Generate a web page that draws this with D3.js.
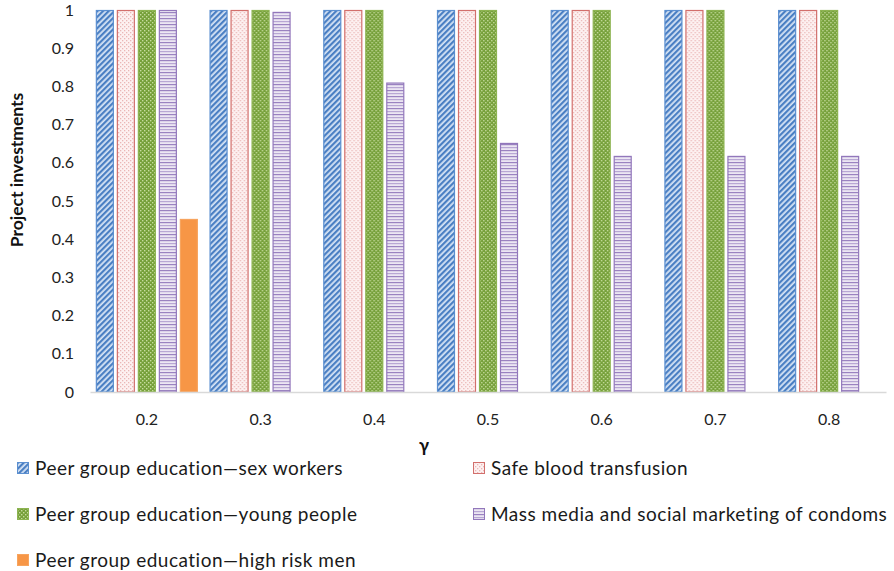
<!DOCTYPE html>
<html>
<head>
<meta charset="utf-8">
<script src="https://cdn.jsdelivr.net/npm/d3@7"></script>
<style>
  html, body { margin: 0; padding: 0; background: #fff; }
  svg { display: block; font-family: Lato, "Open Sans", sans-serif; }
</style>
</head>
<body>
<svg id="chart" width="894" height="571"></svg>
<script>
// γ values on the category axis
const categories = ["0.2", "0.3", "0.4", "0.5", "0.6", "0.7", "0.8"];

// Project investment per series, one value per γ
const sexWorkers   = [1, 1, 1, 1, 1, 1, 1];
const safeBlood    = [1, 1, 1, 1, 1, 1, 1];
const youngPeople  = [1, 1, 1, 1, 1, 1, 1];
const massMedia    = [1, 0.995, 0.81, 0.652, 0.618, 0.618, 0.618];
const highRiskMen  = [0.453, 0, 0, 0, 0, 0, 0];

const seriesNames = [
  "Peer group education\u2014sex workers",
  "Safe blood transfusion",
  "Peer group education\u2014young people",
  "Mass media and social marketing of condoms",
  "Peer group education\u2014high risk men"
];
const seriesValues = [sexWorkers, safeBlood, youngPeople, massMedia, highRiskMen];
const yTicks = [0, 0.1, 0.2, 0.3, 0.4, 0.5, 0.6, 0.7, 0.8, 0.9, 1];

const svg = d3.select("#chart");
const defs = svg.append("defs");

// Fill patterns
// blue wide upward diagonal
const pBlue = defs.append("pattern").attr("id", "pBlue").attr("patternUnits", "userSpaceOnUse")
  .attr("width", 4).attr("height", 4).attr("patternTransform", "rotate(45)");
pBlue.append("rect").attr("width", 4).attr("height", 4).attr("fill", "#d6e4f5");
pBlue.append("rect").attr("width", 2.2).attr("height", 4).attr("fill", "#4a7fc3");

// red/pink fine dots
const pRed = defs.append("pattern").attr("id", "pRed").attr("patternUnits", "userSpaceOnUse")
  .attr("width", 4).attr("height", 4);
pRed.append("rect").attr("width", 4).attr("height", 4).attr("fill", "#fdf1f1");
pRed.append("rect").attr("x", 0).attr("y", 0).attr("width", 1.3).attr("height", 1.3).attr("fill", "#eab7b6");
pRed.append("rect").attr("x", 2).attr("y", 2).attr("width", 1.3).attr("height", 1.3).attr("fill", "#eab7b6");

// green with light dots
const pGreen = defs.append("pattern").attr("id", "pGreen").attr("patternUnits", "userSpaceOnUse")
  .attr("width", 4).attr("height", 4);
pGreen.append("rect").attr("width", 4).attr("height", 4).attr("fill", "#76a03a");
pGreen.append("rect").attr("x", 0).attr("y", 0).attr("width", 1.4).attr("height", 1.4).attr("fill", "#c6dc9e");
pGreen.append("rect").attr("x", 2).attr("y", 2).attr("width", 1.4).attr("height", 1.4).attr("fill", "#c6dc9e");

// purple horizontal stripes
const pPurple = defs.append("pattern").attr("id", "pPurple").attr("patternUnits", "userSpaceOnUse")
  .attr("width", 4).attr("height", 6);
pPurple.append("rect").attr("width", 4).attr("height", 6).attr("fill", "#ece6f3");
pPurple.append("rect").attr("y", 0).attr("width", 4).attr("height", 1.2).attr("fill", "#9a82c0");
pPurple.append("rect").attr("y", 3).attr("width", 4).attr("height", 1.2).attr("fill", "#b8a7d4");

const fills   = ["url(#pBlue)", "url(#pRed)", "url(#pGreen)", "url(#pPurple)", "#f79646"];
const strokes = ["#5b8fd0", "#d26f6c", "#8db451", "#9277bb", "#f7a45e"];

// Scales
const x0 = d3.scaleBand().domain(categories).range([90, 886]).padding(0);
const groupW = x0.bandwidth() * 0.897;
const x1 = d3.scaleBand().domain(d3.range(seriesNames.length))
  .range([(x0.bandwidth() - groupW) / 2, (x0.bandwidth() + groupW) / 2])
  .paddingInner(0.143);
const y = d3.scaleLinear().domain([0, 1]).range([392, 10]);

// Bars
const groups = svg.append("g").selectAll("g")
  .data(categories)
  .join("g")
  .attr("transform", d => `translate(${x0(d)},0)`);

groups.selectAll("rect")
  .data((c, ci) => seriesValues.map((vals, si) => ({ si, v: vals[ci] })).filter(d => d.v > 0))
  .join("rect")
  .attr("x", d => x1(d.si) + 0.5)
  .attr("y", d => y(d.v) + 0.5)
  .attr("width", x1.bandwidth() - 1)
  .attr("height", d => y(0) - y(d.v) - 0.5)
  .attr("fill", d => fills[d.si])
  .attr("stroke", d => strokes[d.si])
  .attr("stroke-width", 1.2);

// X axis
const xAxis = svg.append("g")
  .attr("transform", `translate(0,${y(0)})`)
  .call(d3.axisBottom(x0).tickSize(0).tickPadding(22));
xAxis.select(".domain").attr("stroke", "#d9d9d9").attr("stroke-width", 1.5);
xAxis.selectAll("text").attr("font-size", 16).attr("fill", "#222").attr("font-family", "Lato, sans-serif");

// Y axis (labels only)
const yAxis = svg.append("g")
  .attr("transform", "translate(74,0)")
  .call(d3.axisLeft(y).tickValues(yTicks).tickSize(0).tickPadding(0)
    .tickFormat(d => d3.format("~g")(d)));
yAxis.select(".domain").remove();
yAxis.selectAll("text").attr("font-size", 16).attr("fill", "#222").attr("font-family", "Lato, sans-serif");

// Axis titles
svg.append("text")
  .attr("transform", "translate(23,170) rotate(-90)")
  .attr("text-anchor", "middle")
  .attr("font-size", 17.5)
  .attr("font-weight", "bold")
  .attr("fill", "#111")
  .text("Project investments");

svg.append("text")
  .attr("x", 424).attr("y", 452)
  .attr("text-anchor", "middle")
  .attr("font-size", 18)
  .attr("font-weight", "bold")
  .attr("fill", "#111")
  .text("\u03b3");

// Legend: two columns, three rows
const legendPos = [
  [17, 468], [473, 468],
  [17, 514], [473, 514],
  [17, 560]
];
const legend = svg.append("g").selectAll("g")
  .data(seriesNames)
  .join("g")
  .attr("transform", (d, i) => `translate(${legendPos[i][0]},${legendPos[i][1]})`);
legend.append("rect")
  .attr("x", 0.5).attr("y", -5.5).attr("width", 11).attr("height", 11)
  .attr("fill", (d, i) => fills[i])
  .attr("stroke", (d, i) => strokes[i]);
legend.append("text")
  .attr("x", 18).attr("y", 0).attr("dy", "0.35em")
  .attr("font-size", 19)
  .attr("letter-spacing", 0.5)
  .attr("fill", "#1a1a1a")
  .text(d => d);
</script>
</body>
</html>
